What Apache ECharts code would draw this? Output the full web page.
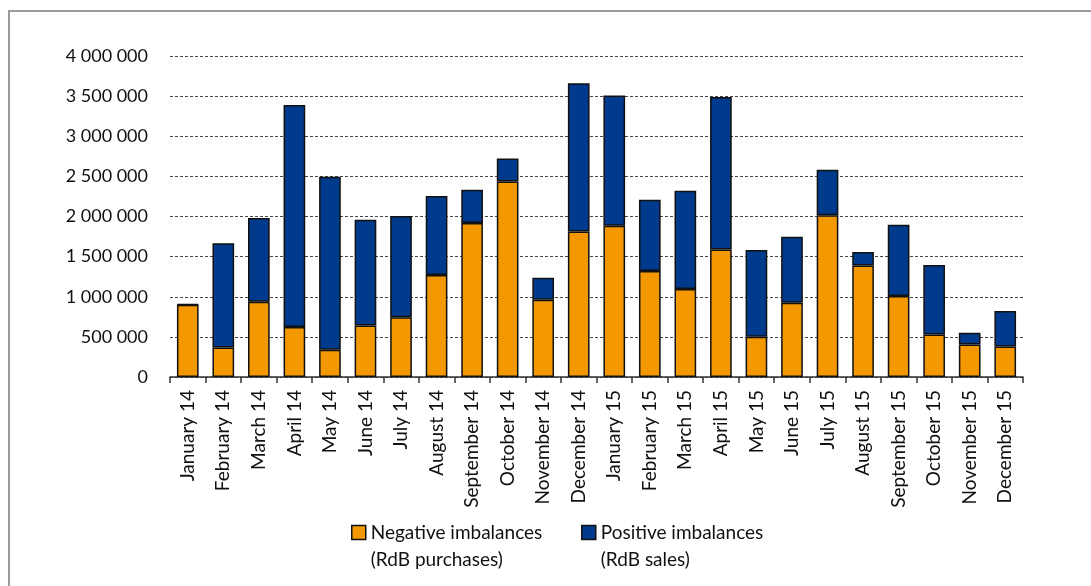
<!DOCTYPE html>
<html>
<head>
<meta charset="utf-8">
<script src="https://cdn.jsdelivr.net/npm/echarts@6/dist/echarts.min.js"></script>
<style>
  html, body { margin: 0; padding: 0; background: #fff; }
  #frame { position: absolute; left: 8px; top: 10px; right: 0; bottom: 0; border-left: 2px solid #9a9a9a; border-top: 2px solid #9a9a9a; }
  #chart { position: absolute; left: 0; top: 0; width: 1091px; height: 586px; }
</style>
</head>
<body>
<div id="frame"></div>
<div id="chart"></div>
<script>
// Monthly imbalance volumes, 2014-2015
const months = [
  'January 14', 'February 14', 'March 14', 'April 14', 'May 14', 'June 14',
  'July 14', 'August 14', 'September 14', 'October 14', 'November 14', 'December 14',
  'January 15', 'February 15', 'March 15', 'April 15', 'May 15', 'June 15',
  'July 15', 'August 15', 'September 15', 'October 15', 'November 15', 'December 15'
];
const negativeImbalances = [
  900000, 369000, 938000, 623000, 340000, 643000,
  743000, 1270000, 1918000, 2436000, 963000, 1813000,
  1884000, 1320000, 1096000, 1589000, 502000, 925000,
  2017000, 1390000, 1008000, 531000, 406000, 381000
];
const positiveImbalances = [
  8000, 1299000, 1042000, 2767000, 2154000, 1316000,
  1262000, 984000, 415000, 286000, 274000, 1848000,
  1623000, 888000, 1224000, 1901000, 1079000, 822000,
  565000, 167000, 889000, 864000, 146000, 441000
];
const yTicks = [0, 500000, 1000000, 1500000, 2000000, 2500000, 3000000, 3500000, 4000000];

const FONT = 'Lato';
const fmt = v => String(v).replace(/\B(?=(\d{3})+(?!\d))/g, ' ');

// legend text: a blank first line keeps the swatch level with the series name
const legendCommon = {
  top: 487, padding: 5,
  icon: 'rect', itemWidth: 14, itemHeight: 14, itemGap: 0,
  itemStyle: { borderColor: '#111', borderWidth: 1.5 },
  textStyle: { fontSize: 19, color: '#111', fontFamily: FONT, lineHeight: 27 }
};

const chart = echarts.init(document.getElementById('chart'), null, { renderer: 'canvas' });
chart.setOption({
  animation: false,
  textStyle: { fontFamily: FONT },
  grid: { left: 170, right: 68, top: 56, bottom: 209, containLabel: false },
  xAxis: {
    type: 'category',
    data: months,
    axisLine: { lineStyle: { color: '#333', width: 1.5 } },
    axisTick: { show: true, alignWithLabel: false, length: 6, lineStyle: { color: '#333', width: 1.5 } },
    axisLabel: { rotate: 90, interval: 0, margin: 13, fontSize: 19, color: '#111', fontFamily: FONT }
  },
  yAxis: {
    type: 'value',
    min: yTicks[0],
    max: yTicks[yTicks.length - 1],
    interval: yTicks[1] - yTicks[0],
    axisLine: { show: false },
    axisTick: { show: false },
    splitLine: { lineStyle: { color: '#444', type: [3, 2], width: 1 } },
    axisLabel: { margin: 22, fontSize: 18, color: '#111', fontFamily: FONT, formatter: fmt }
  },
  legend: [
    Object.assign({}, legendCommon, {
      data: ['Negative imbalances'],
      left: 346,
      formatter: n => ' \n' + n + '\n(RdB purchases)'
    }),
    Object.assign({}, legendCommon, {
      data: ['Positive imbalances'],
      left: 576,
      formatter: n => ' \n' + n + '\n(RdB sales)'
    })
  ],
  series: [
    {
      name: 'Negative imbalances',
      type: 'bar',
      stack: 'total',
      barWidth: '61%',
      data: negativeImbalances,
      itemStyle: { color: '#F39800', borderColor: '#111', borderWidth: 1.5 }
    },
    {
      name: 'Positive imbalances',
      type: 'bar',
      stack: 'total',
      barWidth: '61%',
      data: positiveImbalances,
      itemStyle: { color: '#003A8C', borderColor: '#111', borderWidth: 1.5 }
    }
  ]
});
</script>
</body>
</html>
